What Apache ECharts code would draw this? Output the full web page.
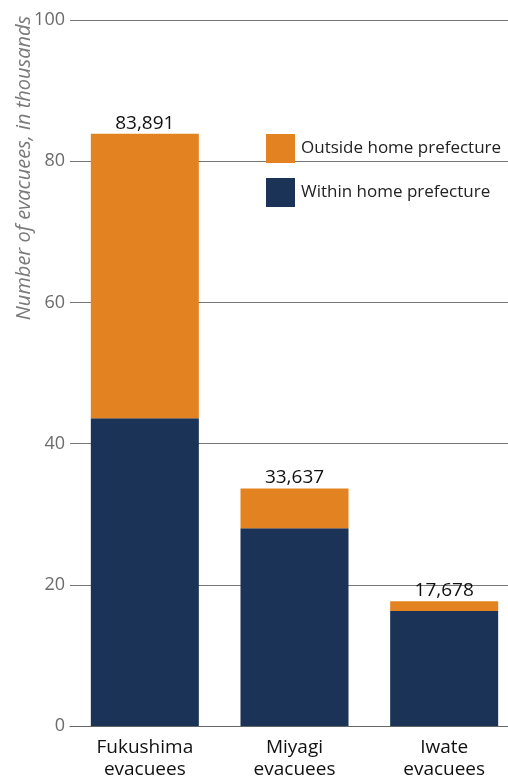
<!DOCTYPE html>
<html>
<head>
<meta charset="utf-8">
<script src="https://cdn.jsdelivr.net/npm/echarts@6/dist/echarts.min.js"></script>
<style>html,body{margin:0;padding:0;background:#fff;overflow:hidden;width:508px;height:783px}#c{width:519px;height:783px}</style>
</head>
<body>
<div id="c"></div>
<script>
var categories = ['Fukushima\nevacuees', 'Miyagi\nevacuees', 'Iwate\nevacuees'];
var withinHome = [43.6, 28.0, 16.3];
var outsideHome = [40.29, 5.64, 1.38];
var totalLabels = ['83,891', '33,637', '17,678'];
var yTicks = { min: 0, max: 100, interval: 20 };

var FONT = '"Open Sans", "Noto Sans", sans-serif';
var chart = echarts.init(document.getElementById('c'), null, { renderer: 'canvas' });
chart.setOption({
  animation: false,
  grid: { left: 70, right: 0, top: 20, bottom: 57, containLabel: false },
  legend: {
    orient: 'vertical', left: 261, top: 129,
    itemWidth: 29, itemHeight: 29, itemGap: 15,
    icon: 'rect',
    data: ['Outside home prefecture', 'Within home prefecture'],
    textStyle: { fontFamily: FONT, fontSize: 17, color: '#222', padding: [0, 0, 0, 1] }
  },
  graphic: [{
    type: 'text',
    style: {
      text: 'Number of evacuees, in thousands',
      font: 'italic 20px ' + FONT, fill: '#7a7a7a',
      align: 'center', verticalAlign: 'middle'
    },
    rotation: Math.PI / 2,
    x: 24, y: 168
  }],
  xAxis: {
    type: 'category', data: categories,
    axisLine: { show: true, lineStyle: { color: '#666', width: 1 } },
    axisTick: { show: false },
    axisLabel: { fontFamily: FONT, fontSize: 19, color: '#111', lineHeight: 22, margin: 11 }
  },
  yAxis: {
    type: 'value', min: yTicks.min, max: yTicks.max, interval: yTicks.interval,
    axisLine: { show: false }, axisTick: { show: false },
    axisLabel: { fontFamily: FONT, fontSize: 18, color: '#6b6b6b', margin: 5 },
    splitLine: { lineStyle: { color: '#777', width: 1 } }
  },
  series: [
    {
      name: 'Within home prefecture', type: 'bar', stack: 'a', data: withinHome,
      barWidth: 108, itemStyle: { color: '#1a3356' }
    },
    {
      name: 'Outside home prefecture', type: 'bar', stack: 'a', data: outsideHome,
      barWidth: 108, itemStyle: { color: '#e38221' },
      label: {
        show: true, position: 'top', distance: 1,
        fontFamily: FONT, fontSize: 19, color: '#111',
        formatter: function (p) { return totalLabels[p.dataIndex]; }
      }
    }
  ]
});
</script>
</body>
</html>
